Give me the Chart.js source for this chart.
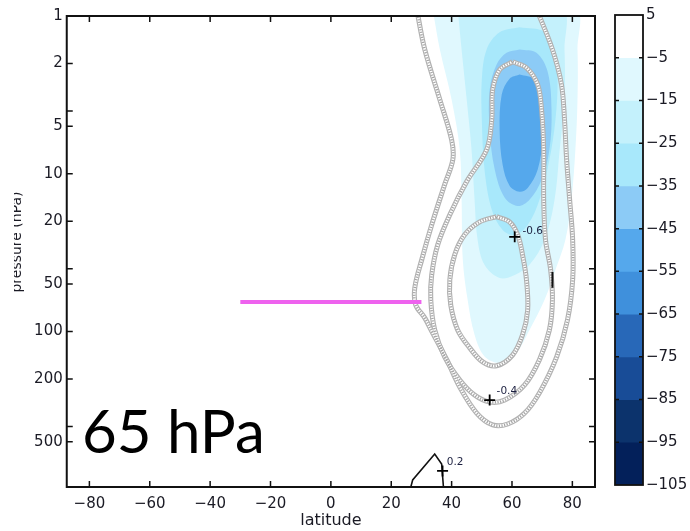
<!DOCTYPE html>
<html><head><meta charset="utf-8">
<script src="https://cdn.jsdelivr.net/npm/chart.js@4.4.1/dist/chart.umd.min.js"></script>
<style>
html,body{margin:0;padding:0;background:#fff;}
#wrap{position:relative;width:690px;height:531px;overflow:hidden;}
#main{position:absolute;left:0;top:0;}
#cb{position:absolute;left:600px;top:0;}
</style></head><body>
<div id="wrap">
<canvas id="main" width="690" height="531"></canvas>
<canvas id="cb" width="90" height="531"></canvas>
</div>
<script>
// ---------- axis ticks ----------
const latTicks = [-80,-60,-40,-20,0,20,40,60,80];
const latTickLabels = ['−80','−60','−40','−20','0','20','40','60','80'];
const pTicks = [1,2,5,10,20,50,100,200,500];
const pTickLabels = ['1','2','5','10','20','50','100','200','500'];
const pMinorTicks = [4,40,400];

// ---------- colour bar ----------
const cbLevels = [5,-5,-15,-25,-35,-45,-55,-65,-75,-85,-95,-105];
const cbLabels = ['5','−5','−15','−25','−35','−45','−55','−65','−75','−85','−95','−105'];
const cbColors = ['#ffffff','#e0f8fe','#c4f1fc','#a8e8fb','#8ccbf6','#55a8ec','#3f90dc','#2868b8','#184c97','#0c336c','#03205a'];

// ---------- filled contours [lat, pressure hPa] ----------
const shadeLe5 = [[33.7,0.9],[80.7,0.9],[81.7,1.63],[81.7,3.39],[81.0,7.04],[79.7,14.6],[77.7,26.2],[74.4,40.6],[70.8,63.0],[65.8,97.7],[60.9,141],[55.9,158],[50.9,144],[47.6,105],[45.3,63.0],[43.7,35.1],[43.3,14.6],[42.7,7.04],[40.0,3.39],[36.1,1.63],[33.7,0.9]];
const shadeLe15 = [[42.0,0.9],[76.4,0.9],[77.4,1.63],[77.4,3.39],[75.8,7.04],[74.1,14.6],[70.8,26.2],[65.8,37.8],[60.9,43.8],[55.9,45.8],[50.9,37.8],[48.6,26.2],[47.6,14.6],[46.6,7.04],[45.0,3.39],[43.3,1.63],[42.0,0.9]];
const shadeLe25 = [[62.5,1.18],[70.8,1.26],[74.1,1.63],[75.1,2.53],[74.4,4.54],[72.4,8.15],[69.1,14.6],[65.2,21.1],[60.9,24.4],[56.9,22.7],[53.3,16.9],[50.9,9.43],[50.0,4.54],[50.0,2.53],[51.6,1.63],[55.9,1.27],[62.5,1.18]];
const shadeLe35 = [[62.5,1.63],[68.1,1.71],[71.8,2.25],[73.1,3.93],[72.4,7.04],[69.8,10.9],[65.8,14.6],[61.9,16.0],[57.6,14.2],[54.3,9.43],[52.6,5.26],[52.6,2.93],[54.9,2.03],[58.2,1.71],[62.5,1.63]];
const shadeLe45 = [[62.5,2.35],[67.5,2.53],[70.1,3.65],[70.1,6.09],[68.5,9.43],[65.2,12.3],[62.5,13.0],[59.2,11.9],[56.9,8.77],[55.9,5.26],[56.6,3.15],[59.2,2.50],[62.5,2.35]];

// ---------- line contours [lat, pressure hPa] ----------
const contourM02 = [[28.4,0.9],[31.1,1.63],[36.1,3.39],[40.0,6.09],[40.4,8.15],[37.7,11.7],[33.4,21.1],[30.1,35.1],[27.8,52.8],[28.1,67.8],[31.1,82.0],[33.7,102],[38.4,151],[42.7,225],[48.3,329],[53.6,391],[58.6,386],[64.2,329],[69.1,245],[74.8,145],[78.4,84.4],[80.1,47.1],[80.1,26.2],[79.1,14.6],[78.1,8.15],[77.4,4.54],[76.4,2.72],[73.4,1.63],[68.1,0.9]];
const contourM04 = [[60.2,1.95],[64.8,2.13],[68.5,2.72],[69.8,3.93],[70.5,7.04],[70.5,14.6],[71.1,26.2],[72.8,40.6],[73.4,63.0],[72.4,97.7],[69.1,151],[64.2,218],[57.6,272],[52.6,280],[47.6,253],[42.7,203],[37.7,145],[34.4,97.7],[33.1,63.0],[33.4,43.8],[35.4,28.2],[39.4,18.2],[45.0,11.2],[51.6,7.04],[53.3,4.54],[53.6,2.93],[55.9,2.19],[60.2,1.95]];
const contourM06 = [[54.9,18.7],[59.2,20.2],[61.9,24.4],[63.5,32.7],[64.8,47.1],[65.2,72.9],[63.5,105],[60.2,141],[54.9,165],[50.3,156],[46.0,127],[42.0,97.7],[39.7,67.8],[39.4,47.1],[41.0,32.7],[44.3,24.4],[49.3,20.2],[54.9,18.7]];
const contourP02 = [[26.1,1030],[27.1,874],[34.4,598],[36.7,692],[37.4,1030]];
const contourStub = [[73.4,41.9],[73.4,52.8]];

// ---------- contour labels ----------
const labelMarks = [[60.9,25.1],[52.6,272],[37.0,766]];
const labelTexts = ['-0.6','-0.4','0.2'];
const labelAt = [[63.5,23.0],[54.9,239],[38.4,672]];

// ---------- highlighted level ----------
const bandLat = [-30,30];
const bandP = 65;

Chart.defaults.font.family = "'DejaVu Sans', sans-serif";
const toXY = pts => pts.map(([x,y]) => ({x, y}));
const shades = [shadeLe5, shadeLe15, shadeLe25, shadeLe35, shadeLe45];
const negContours = [contourM02, contourM04, contourM06];

const datasets = [];
shades.forEach((pts,i) => datasets.push({
  data: toXY(pts), showLine:true, fill:'shape', backgroundColor: cbColors[i+1],
  borderColor:'rgba(0,0,0,0)', borderWidth:0, pointRadius:0, tension:0.35, order:100-i, clip:0
}));
negContours.forEach(pts => {
  datasets.push({data: toXY(pts), showLine:true, fill:false, borderColor:'#b2b2b2', borderWidth:5, pointRadius:0, tension:0.35, order:50, clip:0});
  datasets.push({data: toXY(pts), showLine:true, fill:false, borderColor:'#ffffff', borderWidth:2.6, pointRadius:0, tension:0.35, order:49, clip:0});
  datasets.push({data: toXY(pts), showLine:true, fill:false, borderColor:'#a6a6a6', borderWidth:2.6, borderDash:[1.2,1.4], pointRadius:0, tension:0.35, order:48, clip:0});
});
datasets.push({data: toXY(contourP02), showLine:true, fill:false, borderColor:'#111', borderWidth:1.6, pointRadius:0, tension:0, order:10, clip:0});
datasets.push({data: toXY(contourStub), showLine:true, fill:false, borderColor:'#111', borderWidth:2, pointRadius:0, order:10, clip:0});
datasets.push({data: bandLat.map(v => ({x:v, y:bandP})), showLine:true, fill:false, borderColor:'#ee62ee', borderWidth:4, pointRadius:0, order:5, clip:0});
datasets.push({data: toXY(labelMarks), showLine:false, pointStyle:'cross', pointRadius:5.5, pointBorderColor:'#000', pointBorderWidth:1.8, order:1, clip:0});

const decor = {
  id:'decor',
  afterDatasetsDraw(chart){
    const {ctx, chartArea:a, scales:{x,y}} = chart;
    ctx.save();
    ctx.strokeStyle='#111'; ctx.lineWidth=1.5; ctx.beginPath();
    for (const v of latTicks){ const px=x.getPixelForValue(v); ctx.moveTo(px,a.bottom); ctx.lineTo(px,a.bottom-6); ctx.moveTo(px,a.top); ctx.lineTo(px,a.top+6); }
    for (const v of pTicks.concat(pMinorTicks)){ const py=y.getPixelForValue(v); ctx.moveTo(a.left,py); ctx.lineTo(a.left+6,py); ctx.moveTo(a.right,py); ctx.lineTo(a.right-6,py); }
    ctx.stroke();
    ctx.lineWidth=2; ctx.strokeRect(a.left,a.top,a.right-a.left,a.bottom-a.top);
    // contour labels
    ctx.font="10.5px 'DejaVu Sans'"; ctx.fillStyle='#1c2040'; ctx.textBaseline='middle'; ctx.textAlign='left';
    labelTexts.forEach((t,i) => ctx.fillText(t, x.getPixelForValue(labelAt[i][0]), y.getPixelForValue(labelAt[i][1])));
    // panel annotation
    ctx.font="60px Lato"; ctx.fillStyle='#000'; ctx.textBaseline='alphabetic';
    ctx.fillText('65 hPa', 82, 453);
    // x title
    ctx.font="16px 'DejaVu Sans'"; ctx.fillStyle='#1a1a24'; ctx.textAlign='center'; ctx.textBaseline='middle';
    ctx.fillText('latitude', (a.left+a.right)/2, 521);
    // y title (partly cut off at the left edge)
    ctx.save();
    ctx.beginPath(); ctx.rect(14,0,60,531); ctx.clip();
    ctx.translate(21, 242); ctx.rotate(-Math.PI/2);
    ctx.font="14px 'DejaVu Sans'"; ctx.textBaseline='alphabetic'; ctx.textAlign='center';
    ctx.fillText('pressure (hPa)', 0, 0);
    ctx.restore();
    ctx.restore();
  }
};

new Chart(document.getElementById('main'), {
  type:'scatter',
  data:{datasets},
  options:{
    responsive:false, animation:false, devicePixelRatio:1, events:[],
    layout:{padding:{left:0, right:95, top:16, bottom:0}},
    plugins:{legend:{display:false}, tooltip:{enabled:false}},
    elements:{point:{radius:0, hoverRadius:0}},
    scales:{
      x:{type:'linear', min:-87.5, max:87.5, position:'bottom',
        afterBuildTicks: s => { s.ticks = latTicks.map(v => ({value:v})); },
        afterFit: s => { s.height = 44; },
        ticks:{callback:(v,i) => latTickLabels[i], font:{size:15}, color:'#1a1a24', padding:8, maxRotation:0, autoSkip:false},
        grid:{display:false, drawTicks:false}, border:{display:false}},
      y:{type:'logarithmic', reverse:true, min:1, max:968, position:'left',
        afterBuildTicks: s => { s.ticks = pTicks.map(v => ({value:v})); },
        afterFit: s => { s.width = 66.75; },
        ticks:{callback:(v,i) => pTickLabels[i], font:{size:15}, color:'#1a1a24', padding:4, autoSkip:false},
        grid:{display:false, drawTicks:false}, border:{display:false}}
    }
  },
  plugins:[decor]
});

const cbDecor = {
  id:'cbDecor',
  afterDatasetsDraw(chart){
    const {ctx, chartArea:a, scales:{y}} = chart;
    ctx.save();
    ctx.strokeStyle='#111'; ctx.lineWidth=1.5; ctx.beginPath();
    cbLevels.slice(1,-1).forEach(v => { const py=y.getPixelForValue(v); ctx.moveTo(a.left,py); ctx.lineTo(a.left+4,py); ctx.moveTo(a.right,py); ctx.lineTo(a.right-4,py); });
    ctx.stroke();
    ctx.lineWidth=1.8; ctx.strokeRect(a.left,a.top,a.right-a.left,a.bottom-a.top);
    ctx.restore();
  }
};

new Chart(document.getElementById('cb'), {
  type:'bar',
  data:{labels:['cb'], datasets: cbColors.map((c,i) => ({data:[[cbLevels[i+1], cbLevels[i]]], backgroundColor:c, borderWidth:0, barPercentage:1, categoryPercentage:1, grouped:false}))},
  options:{
    responsive:false, animation:false, devicePixelRatio:1, events:[],
    layout:{padding:{left:15, top:15, right:0, bottom:46}},
    plugins:{legend:{display:false}, tooltip:{enabled:false}},
    scales:{
      x:{display:false},
      y:{position:'right', min:-105, max:5,
        afterBuildTicks: s => { s.ticks = cbLevels.map(v => ({value:v})); },
        afterFit: s => { s.width = 47; },
        ticks:{callback:(v,i) => cbLabels[i], font:{size:15}, color:'#1a1a24', padding:3, autoSkip:false},
        grid:{display:false, drawTicks:false}, border:{display:false}}
    }
  },
  plugins:[cbDecor]
});
</script>
</body></html>
